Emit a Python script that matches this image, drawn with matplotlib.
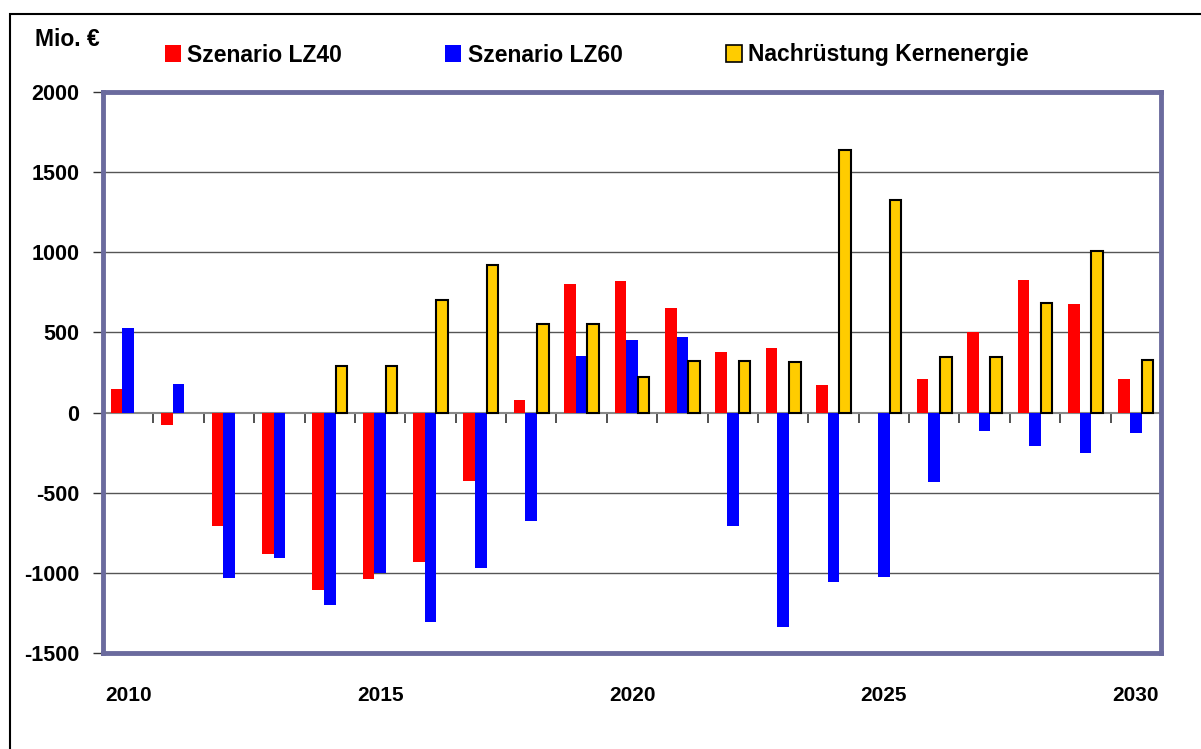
import numpy as np
import matplotlib.pyplot as plt
from matplotlib.patches import Rectangle, Patch

plt.rcParams['font.family'] = ['Liberation Sans', 'DejaVu Sans']
plt.rcParams['font.weight'] = 'bold'
plt.rcParams['axes.unicode_minus'] = False

years = list(range(2010, 2031))
lz40 = [150, -75, -705, -880, -1105, -1040, -935, -430, 80, 800, 820,
        650, 380, 405, 170, 0, 210, 500, 825, 675, 210]
lz60 = [530, 180, -1030, -905, -1200, -1000, -1305, -970, -675, 350, 455,
        470, -710, -1340, -1055, -1025, -435, -115, -210, -250, -130]
kern = [0, 0, 0, 0, 290, 290, 700, 920, 550, 555, 225,
        320, 320, 315, 1640, 1325, 345, 345, 685, 1010, 325]
labels = ['Szenario LZ40', 'Szenario LZ60', 'Nachrüstung Kernenergie']
year_labels = [2010, 2015, 2020, 2025, 2030]

W, H = 1201, 749
fig = plt.figure(figsize=(W / 100, H / 100), dpi=100)
ax = fig.add_axes([103 / W, 1 - 653 / H, (1161 - 103) / W, (653 - 92) / H])

x = np.arange(len(years))
bw = 0.23
series = [(lz40, '#ff0000', 'none', -bw), (lz60, '#0000ff', 'none', 0.0),
          (kern, '#ffcc00', 'black', bw)]
for vals, col, ec, off in series:
    v = np.array(vals, dtype=float)
    m = v != 0
    ax.bar(x[m] + off, v[m], width=bw, color=col, edgecolor=ec,
           linewidth=1.5 if ec != 'none' else 0, zorder=3)

ax.set_xlim(-0.5, len(years) - 0.5)
ax.set_ylim(-1500, 2000)
ax.set_yticks(np.arange(-1500, 2001, 500))
for yv in np.arange(-1000, 2000, 500):
    if yv != 0:
        ax.axhline(yv, color='#555555', lw=1, zorder=1)
ax.axhline(0, color='#888888', lw=1.5, zorder=2)

# category boundary ticks on the zero line
zpos = 1500 / 3500
sec = ax.secondary_xaxis(zpos)
sec.set_xticks(np.arange(len(years) + 1) - 0.5)
sec.set_xticklabels([])
sec.tick_params(axis='x', direction='out', length=7, width=1.2, color='#333333')
sec.spines['bottom'].set_visible(False)

ax.set_xticks([years.index(y) for y in year_labels])
ax.set_xticklabels([str(y) for y in year_labels])
ax.tick_params(axis='x', length=0, pad=24, labelsize=15)
ax.tick_params(axis='y', direction='out', length=7, width=1, color='#333333',
               pad=10, labelsize=15.5)

for s in ax.spines.values():
    s.set_color('#6b6b9e')
    s.set_linewidth(3.5)
    s.set_zorder(5)

fig.text(35 / W, 1 - 40 / H, 'Mio. €', fontsize=16.5, fontweight='bold', va='center')

handles = [Patch(facecolor='#ff0000', edgecolor='none'),
           Patch(facecolor='#0000ff', edgecolor='none'),
           Patch(facecolor='#ffcc00', edgecolor='black', linewidth=1.2)]
fig.legend(handles, labels, ncol=3, loc='center left',
           bbox_to_anchor=(165 / W, 1 - 55 / H), frameon=False,
           borderpad=0, borderaxespad=0,
           handlelength=0.68, handleheight=0.8, handletextpad=0.3,
           columnspacing=4.5, prop={'weight': 'bold', 'size': 16.5})

# outer chart frame
fig.patches.append(Rectangle((10 / W, -0.1), 1.2, 1 - 14 / H + 0.1,
                             transform=fig.transFigure, fill=False,
                             edgecolor='black', lw=1.5))

fig.savefig('out.png', dpi=100)
